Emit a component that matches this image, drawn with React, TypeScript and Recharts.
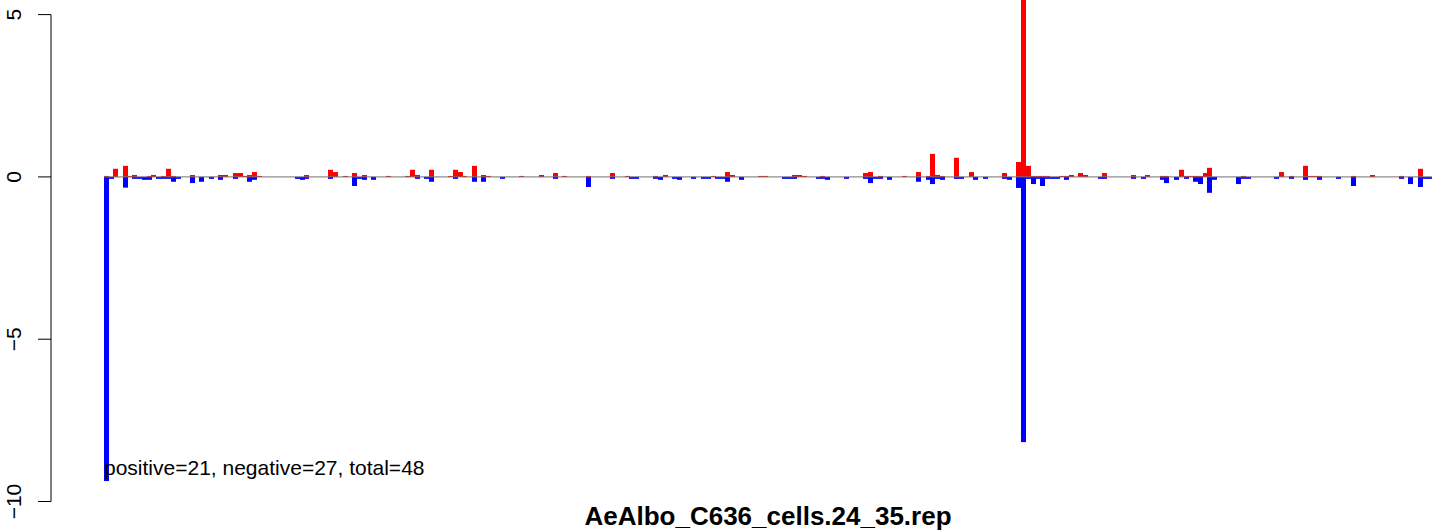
import React from 'react';
import { BarChart, Bar, XAxis, YAxis, ReferenceLine } from 'recharts';

// position of each read bin (arbitrary position units along the sequence)
const positions = [
  55, 60, 64, 74, 79, 83, 88, 93, 98, 102, 107, 112, 117, 122, 127, 141, 150, 160, 169, 174,
  184, 189, 194, 198, 203, 208, 246, 251, 255, 279, 284, 294, 303, 308, 313, 322, 337, 356, 361, 366,
  375, 380, 399, 404, 409, 413, 423, 432, 437, 451, 470, 490, 504, 513, 537, 561, 576, 580, 585, 604,
  609, 614, 623, 628, 642, 652, 657, 662, 666, 671, 676, 681, 690, 709, 714, 733, 738, 743, 748, 753,
  767, 771, 776, 795, 814, 819, 824, 829, 838, 853, 867, 877, 881, 886, 891, 905, 910, 920, 924, 934,
  953, 958, 967, 972, 977, 982, 987, 991, 996, 1001, 1006, 1010, 1015, 1020, 1029, 1034, 1049, 1053, 1082, 1092,
  1096, 1111, 1115, 1125, 1130, 1135, 1140, 1144, 1149, 1154, 1158, 1163, 1187, 1192, 1197, 1225, 1230, 1240, 1254, 1259,
  1264, 1268, 1287, 1302, 1321, 1350, 1359, 1369, 1374, 1378,
];

// positive (red) values
const positiveValues = [
  0.03, 0, 0.25, 0.34, 0.03, 0.06, 0, 0, 0.03, 0.06, 0, 0.03, 0.25, 0.03, 0, 0.06, 0, 0, 0.06, 0.06,
  0.12, 0.12, 0.03, 0.06, 0.15, 0.03, 0, 0, 0.06, 0.22, 0.15, 0.03, 0.12, 0, 0.06, 0, 0.03, 0.03, 0.22, 0.06,
  0, 0.22, 0.03, 0.22, 0.15, 0.03, 0.34, 0.06, 0.03, 0, 0.03, 0.06, 0.12, 0.03, 0.03, 0.12, 0.03, 0, 0, 0.03,
  0, 0.06, 0, 0, 0, 0, 0, 0.03, 0, 0, 0.15, 0.06, 0, 0.03, 0.03, 0, 0, 0.06, 0.06, 0.03,
  0, 0.03, 0, 0, 0.12, 0.15, 0, 0.03, 0, 0.03, 0.15, 0.03, 0.71, 0.06, 0.03, 0.59, 0, 0.15, 0, 0,
  0.12, 0, 0.46, 5.45, 0.34, 0.03, 0.03, 0.03, 0.03, 0, 0, 0.03, 0.03, 0.06, 0.12, 0.06, 0, 0.12, 0.06, 0,
  0.06, 0.03, 0.03, 0, 0.22, 0.03, 0.03, 0.03, 0.03, 0.12, 0.28, 0, 0, 0.03, 0, 0, 0.15, 0.03, 0.34, 0.03,
  0.03, 0.03, 0, 0.03, 0.06, 0.03, 0, 0.25, 0, 0,
];

// negative (blue) values
const negativeValues = [
  -9.37, -0.06, 0, -0.33, 0, -0.06, -0.06, -0.09, -0.09, 0, -0.06, -0.06, -0.06, -0.15, -0.06, -0.19, -0.15, -0.06, -0.09, 0,
  -0.06, 0, 0, -0.15, -0.09, 0, -0.06, -0.09, -0.06, -0.06, 0, 0, -0.28, -0.06, -0.09, -0.09, 0, 0, 0, -0.06,
  -0.06, -0.15, 0, -0.06, 0, 0, -0.15, -0.15, 0, -0.06, 0, 0, -0.06, 0, -0.31, -0.06, 0, -0.06, -0.06, -0.06,
  -0.09, 0, -0.06, -0.09, -0.06, -0.06, -0.06, 0, -0.06, -0.06, -0.15, 0, -0.09, 0, 0, -0.06, -0.06, -0.06, 0, 0,
  -0.06, -0.06, -0.09, -0.06, -0.06, -0.19, -0.06, -0.06, -0.09, 0, -0.15, -0.09, -0.22, -0.06, -0.09, -0.06, -0.06, 0, -0.09, -0.06,
  -0.06, -0.09, -0.34, -8.17, -0.06, -0.22, -0.06, -0.28, -0.06, -0.06, -0.06, 0, -0.09, 0, 0, 0, -0.06, -0.06, -0.06, -0.06,
  0, -0.09, -0.19, -0.09, 0, -0.06, 0, -0.15, -0.22, 0, -0.49, -0.09, -0.22, -0.06, -0.06, -0.06, 0, -0.06, -0.09, 0,
  0, -0.09, -0.06, -0.28, 0, -0.06, -0.22, -0.31, -0.06, -0.06,
];

const yTicks = [-10, -5, 0, 5];
const yDomain: [number, number] = [-10.2, 5.45];
const xDomain: [number, number] = [-1, 1388];
const titleText = 'AeAlbo_C636_cells.24_35.rep';
const summaryText = 'positive=21, negative=27, total=48';

const data = positions.map((p, i) => ({ pos: p, up: positiveValues[i], down: negativeValues[i] }));

const FONT = '"Liberation Sans", Arial, Helvetica, sans-serif';
const BAR_W = 5;

const YTick = (props: any) => {
  const { x, y, payload } = props;
  const v = payload.value;
  const label = v < 0 ? '\u2212' + Math.abs(v) : String(v);
  const tx = x - 15;
  return (
    <text
      x={tx}
      y={y}
      transform={`rotate(-90, ${tx}, ${y})`}
      textAnchor="middle"
      fontSize={21}
      fontFamily={FONT}
      fill="#000"
    >
      {label}
    </text>
  );
};

// fixed-width bar centred on the data position
const BinShape = (props: any) => {
  const { x, y, width, height, fill } = props;
  if (x == null || y == null || !height) return <g />;
  const cx = x + width / 2;
  const top = Math.min(y, y + height);
  const h = Math.abs(height);
  return <rect x={Math.round(cx - BAR_W / 2)} y={top} width={BAR_W} height={h} fill={fill} />;
};

export default function App() {
  const first = positions[0];
  const last = positions[positions.length - 1];
  return (
    <div style={{ position: 'absolute', left: 0, top: 0, width: 1444, height: 531, background: '#fff' }}>
      <BarChart
        width={1444}
        height={531}
        data={data}
        stackOffset="sign"
        margin={{ top: 0, right: 4, bottom: 23, left: 0 }}
      >
        <XAxis dataKey="pos" type="number" domain={xDomain} hide allowDataOverflow />
        <YAxis
          type="number"
          domain={yDomain}
          allowDataOverflow
          ticks={yTicks}
          width={51}
          axisLine={false}
          tickSize={13}
          tickLine={{ stroke: '#000', strokeWidth: 1 }}
          tick={<YTick />}
          interval={0}
        />
        <Bar dataKey="up" stackId="s" fill="#FF0000" shape={<BinShape />} isAnimationActive={false} />
        <Bar dataKey="down" stackId="s" fill="#0000FF" shape={<BinShape />} isAnimationActive={false} />
        <ReferenceLine
          segment={[{ x: first - 3, y: 0 }, { x: last + 2, y: 0 }]}
          stroke="#707070"
          strokeWidth={1}
        />
        <ReferenceLine
          segment={[{ x: xDomain[0], y: yTicks[0] }, { x: xDomain[0], y: yTicks[yTicks.length - 1] }]}
          stroke="#000"
          strokeWidth={1}
          ifOverflow="visible"
        />
      </BarChart>
      <svg
        width={1444}
        height={531}
        style={{ position: 'absolute', left: 0, top: 0, pointerEvents: 'none' }}
      >
        <text x={104} y={475} fontSize={21} fontFamily={FONT} fill="#000">
          {summaryText}
        </text>
        <text x={768} y={525} fontSize={26} fontWeight="bold" fontFamily={FONT} textAnchor="middle" fill="#000">
          {titleText}
        </text>
      </svg>
    </div>
  );
}
